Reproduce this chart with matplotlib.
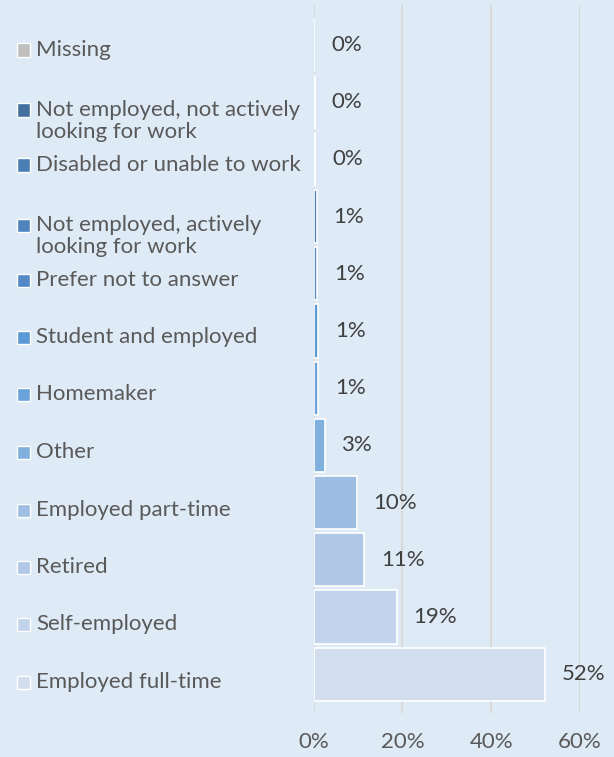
import matplotlib
matplotlib.use("Agg")
import matplotlib.pyplot as plt

# data (top to bottom as in the chart)
categories = ["Missing",
              "Not employed, not actively\nlooking for work",
              "Disabled or unable to work",
              "Not employed, actively\nlooking for work",
              "Prefer not to answer",
              "Student and employed",
              "Homemaker",
              "Other",
              "Employed part-time",
              "Retired",
              "Self-employed",
              "Employed full-time"]
values = [0.2, 0.3, 0.4, 0.7, 0.8, 1.0, 1.0, 2.5, 9.7, 11.4, 18.7, 52.1]
value_labels = ["0%", "0%", "0%", "1%", "1%", "1%", "1%", "3%", "10%", "11%", "19%", "52%"]
colors = ["#BFBFBF", "#41719C", "#4A7EB5", "#4F85BF", "#5289C6", "#5B9BD5",
          "#6AA3D9", "#80B0DE", "#9DBDE2", "#B0C7E6", "#C2D4EC", "#D2DEEE"]
xticks = [0, 20, 40, 60]

bg = "#DEEAF6"
plt.rcParams["font.family"] = ["Lato", "DejaVu Sans"]
fs = 16

W, H = 614, 757
fig = plt.figure(figsize=(W / 100, H / 100), dpi=100, facecolor=bg)
ax = fig.add_axes([313.5 / W, 1 - 713 / H, (580 - 313.5) / W, (713 - 5) / H])
ax.set_facecolor(bg)

ypos = list(range(len(values)))
ax.barh(ypos, values, height=0.93, color=colors, edgecolor="white", linewidth=1.2, zorder=3)
for y, v, lab in zip(ypos, values, value_labels):
    ax.text(v + 3.8, y, lab, va="center", ha="left", fontsize=fs, color="#404040")

ax.set_xlim(0, 60)
ax.set_ylim(11.68, -0.70)
ax.set_xticks(xticks)
ax.set_xticklabels([f"{t}%" for t in xticks], fontsize=fs, color="#595959")
ax.set_yticks([])
ax.tick_params(axis="x", length=0, pad=14)
ax.grid(axis="x", color="#D9D9D9", linewidth=1.5, zorder=0)
for s in ax.spines.values():
    s.set_visible(False)

# legend on the left, one entry per row
legend_y = [50, 110, 165, 225, 280, 337, 394, 452, 510, 567, 624, 682]
for lab, c, yp in zip(categories, colors, legend_y):
    fy = 1 - yp / H
    fig.patches.append(plt.Rectangle((17 / W, fy - 6.5 / H), 13 / W, 13 / H,
                                     transform=fig.transFigure, facecolor=c,
                                     edgecolor="white", linewidth=1))
    for k, line in enumerate(lab.split("\n")):
        fig.text(36 / W, 1 - (yp + 22 * k) / H, line, va="center", ha="left",
                 fontsize=fs, color="#595959")

fig.savefig("out.png", dpi=100, facecolor=bg)
